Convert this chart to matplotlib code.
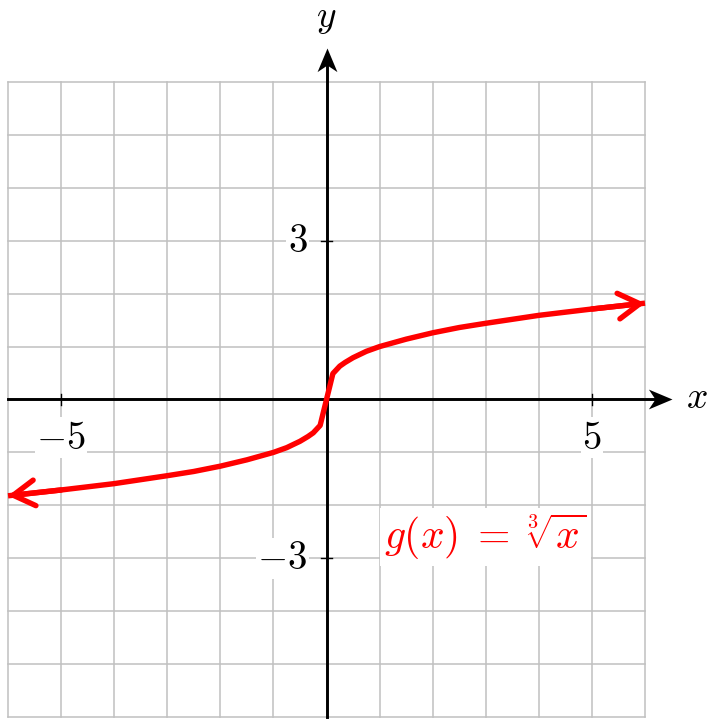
import matplotlib.pyplot as plt
from matplotlib.path import Path
from matplotlib.patches import FancyArrowPatch

plt.rcParams['mathtext.fontset'] = 'cm'

xs = [-6, -5, -4, -3, -2.5, -2, -1.5, -1, -0.75, -0.5, -0.35, -0.25, -0.12,
      0.12, 0.25, 0.35, 0.5, 0.75, 1, 1.5, 2, 2.5, 3, 4, 5, 6]
ys = [-1.82, -1.71, -1.59, -1.44, -1.36, -1.26, -1.14, -1.0, -0.91, -0.79, -0.70, -0.63, -0.49,
      0.49, 0.63, 0.70, 0.79, 0.91, 1.0, 1.14, 1.26, 1.36, 1.44, 1.59, 1.71, 1.82]
xticks = [-5, 5]
yticks = [-3, 3]
grid_vals = list(range(-6, 7))

fig = plt.figure(figsize=(7.17, 7.25), dpi=100)
ax = fig.add_axes([0, 0, 1, 1])
ax.set_xlim(-6.151, 7.356)
ax.set_ylim(-6.151, 7.549)
ax.axis('off')

# grid
for v in grid_vals:
    ax.plot([v, v], [-6, 6], color='#c0c0c0', lw=1.1, zorder=1)
    ax.plot([-6, 6], [v, v], color='#c0c0c0', lw=1.1, zorder=1)

# stealth-like arrow tips as markers (tip at the marker origin)
tip_r = Path([(0, 0), (-1, 0.42), (-0.72, 0), (-1, -0.42), (0, 0)], closed=True)
tip_u = Path([(0, 0), (0.42, -1), (0, -0.72), (-0.42, -1), (0, 0)], closed=True)

ax.plot([-6, 6.3], [0, 0], color='k', lw=2.1, zorder=3)
ax.plot([0, 0], [-6, 6.45], color='k', lw=2.1, zorder=3)
ax.plot([6.51], [0], marker=tip_r, ms=34, color='k', mew=0, zorder=3)
ax.plot([0], [6.64], marker=tip_u, ms=34, color='k', mew=0, zorder=3)
ax.text(6.98, 0.02, r'$x$', fontsize=27, ha='center', va='center')
ax.text(0, 7.2, r'$y$', fontsize=27, ha='center', va='center')

# ticks and labels
for t in xticks:
    ax.plot([t, t], [-0.11, 0.11], color='k', lw=1, zorder=3)
    ax.text(t, -0.72, r'$%d$' % t, fontsize=28, ha='center', va='center', zorder=4,
            bbox=dict(facecolor='white', edgecolor='none', pad=1))
for t in yticks:
    ax.plot([-0.11, 0.11], [t, t], color='k', lw=1, zorder=3)
    ax.text(-0.36, t, r'$%d$' % t, fontsize=28, ha='right', va='center', zorder=4,
            bbox=dict(facecolor='white', edgecolor='none', pad=1))

# curve
ax.plot(xs, ys, color='red', lw=3.9, zorder=5, solid_capstyle='butt')
for a, b in [((xs[1], ys[1]), (xs[0], ys[0])), ((xs[-2], ys[-2]), (xs[-1], ys[-1]))]:
    ax.add_patch(FancyArrowPatch(a, b, arrowstyle='->,head_length=0.7,head_width=0.42',
                                 color='red', lw=3.9, mutation_scale=22,
                                 shrinkA=0, shrinkB=0, zorder=6))

ax.text(3.0, -2.6, r'$g(x)\;=\;\sqrt[3]{x}$', fontsize=30, color='red', ha='center', va='center',
        zorder=7, bbox=dict(facecolor='white', edgecolor='none', pad=3))

fig.savefig('out.png', dpi=100)
